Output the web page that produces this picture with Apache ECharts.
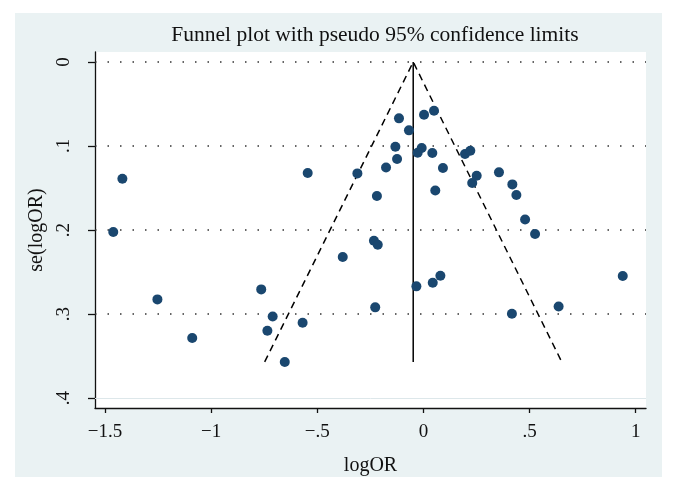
<!DOCTYPE html>
<html><head><meta charset="utf-8">
<script src="https://cdn.jsdelivr.net/npm/echarts@6/dist/echarts.min.js"></script>
<style>html,body{margin:0;padding:0;background:#fff}#c{width:676px;height:491px}</style>
</head><body><div id="c"></div>
<script>
// study estimates
const logOR = [-1.418,-1.461,-1.253,-1.089,-0.764,-0.710,-0.735,-0.653,-0.569,-0.545,
  -0.380,-0.311,-0.233,-0.215,-0.227,-0.219,-0.176,-0.132,-0.124,-0.115,
  -0.068,-0.033,-0.027,-0.008,0.003,0.050,0.042,0.056,0.044,0.080,
  0.092,0.196,0.221,0.230,0.251,0.356,0.419,0.438,0.479,0.526,
  0.417,0.637,0.939];
const seLogOR = [0.139,0.2024,0.2826,0.3286,0.2707,0.3029,0.3199,0.3571,0.3104,0.1321,
  0.2321,0.1326,0.2127,0.2175,0.2921,0.1595,0.1255,0.1008,0.1155,0.0671,
  0.0814,0.2671,0.108,0.1024,0.0627,0.058,0.1083,0.1529,0.2627,0.2544,
  0.1262,0.1095,0.1056,0.144,0.1354,0.1314,0.1457,0.1583,0.1874,0.2048,
  0.2996,0.291,0.2548];
const pooledLogOR = -0.048;
const maxSe = 0.357;
const z95 = 1.96;
const xTicks = [-1.5,-1,-0.5,0,0.5,1];
const xTickLabels = ['\u22121.5','\u22121','\u2212.5','0','.5','1'];
const yTicks = [0,0.1,0.2,0.3,0.4];
const yTickLabels = ['0','.1','.2','.3','.4'];
const dottedLevels = [0,0.1,0.2,0.3];
const faintLevels = [0.4];

const points = logOR.map((v,i)=>[v,seLogOR[i]]);
const lookup = (ticks, labels) => v => {
  const i = ticks.findIndex(t => Math.abs(t - v) < 1e-6);
  return i >= 0 ? labels[i] : '';
};
const serif = '"Liberation Serif", "DejaVu Serif", serif';

const chart = echarts.init(document.getElementById('c'), null, {renderer:'canvas'});
chart.setOption({
  animation:false,
  backgroundColor:'#ffffff',
  graphic:[{type:'rect', z:-10, shape:{x:15,y:13,width:647,height:464}, style:{fill:'#eaf2f3'}}],
  title:{text:'Funnel plot with pseudo 95% confidence limits', left:370, top:19, textAlign:'center',
    textStyle:{fontFamily:serif, fontSize:21.5, fontWeight:'normal', color:'#111'}},
  grid:{left:95, right:30, top:52, bottom:83, show:true, backgroundColor:'#ffffff', borderWidth:0},
  xAxis:{type:'value', min:-1.547, max:1.0486,
    name:'logOR', nameLocation:'middle', nameGap:48,
    nameTextStyle:{fontFamily:serif, fontSize:20, color:'#111'},
    axisLine:{show:true, onZero:false, lineStyle:{color:'#111', width:1.3}},
    axisTick:{show:true, length:5, customValues:xTicks, lineStyle:{color:'#111', width:1.3}},
    axisLabel:{customValues:xTicks, formatter:lookup(xTicks,xTickLabels), margin:15,
      fontFamily:serif, fontSize:19, color:'#111'},
    splitLine:{show:false}},
  yAxis:{type:'value', inverse:true, min:-0.0119, max:0.4119,
    name:'se(logOR)', nameLocation:'middle', nameGap:47, nameRotate:90,
    nameTextStyle:{fontFamily:serif, fontSize:20, color:'#111'},
    axisLine:{show:true, onZero:false, lineStyle:{color:'#111', width:1.3}},
    axisTick:{show:true, length:7, customValues:yTicks, lineStyle:{color:'#111', width:1.3}},
    axisLabel:{customValues:yTicks, formatter:lookup(yTicks,yTickLabels), rotate:90, margin:21,
      fontFamily:serif, fontSize:19, color:'#111'},
    splitLine:{show:false}},
  series:[
    {type:'line', data:[], silent:true,
      markLine:{silent:true, symbol:'none', label:{show:false},
        lineStyle:{color:'#333', width:1.5, type:[1.5,11]},
        data:dottedLevels.map(v=>({yAxis:v}))}},
    {type:'line', data:[], silent:true,
      markLine:{silent:true, symbol:'none', label:{show:false},
        lineStyle:{color:'#dde7ea', width:1, type:'solid'},
        data:faintLevels.map(v=>({yAxis:v}))}},
    {type:'line', showSymbol:false, silent:true, z:3,
      lineStyle:{color:'#000', width:1.5, type:[7,5]},
      data:[[pooledLogOR - z95*maxSe, maxSe],[pooledLogOR,0],[pooledLogOR + z95*maxSe, maxSe]]},
    {type:'line', showSymbol:false, silent:true, z:3,
      lineStyle:{color:'#000', width:1.5},
      data:[[pooledLogOR,0],[pooledLogOR,maxSe]]},
    {type:'scatter', z:5, symbol:'circle', symbolSize:10,
      itemStyle:{color:'#1a476f', opacity:1}, data:points}
  ]
});
</script></body></html>
